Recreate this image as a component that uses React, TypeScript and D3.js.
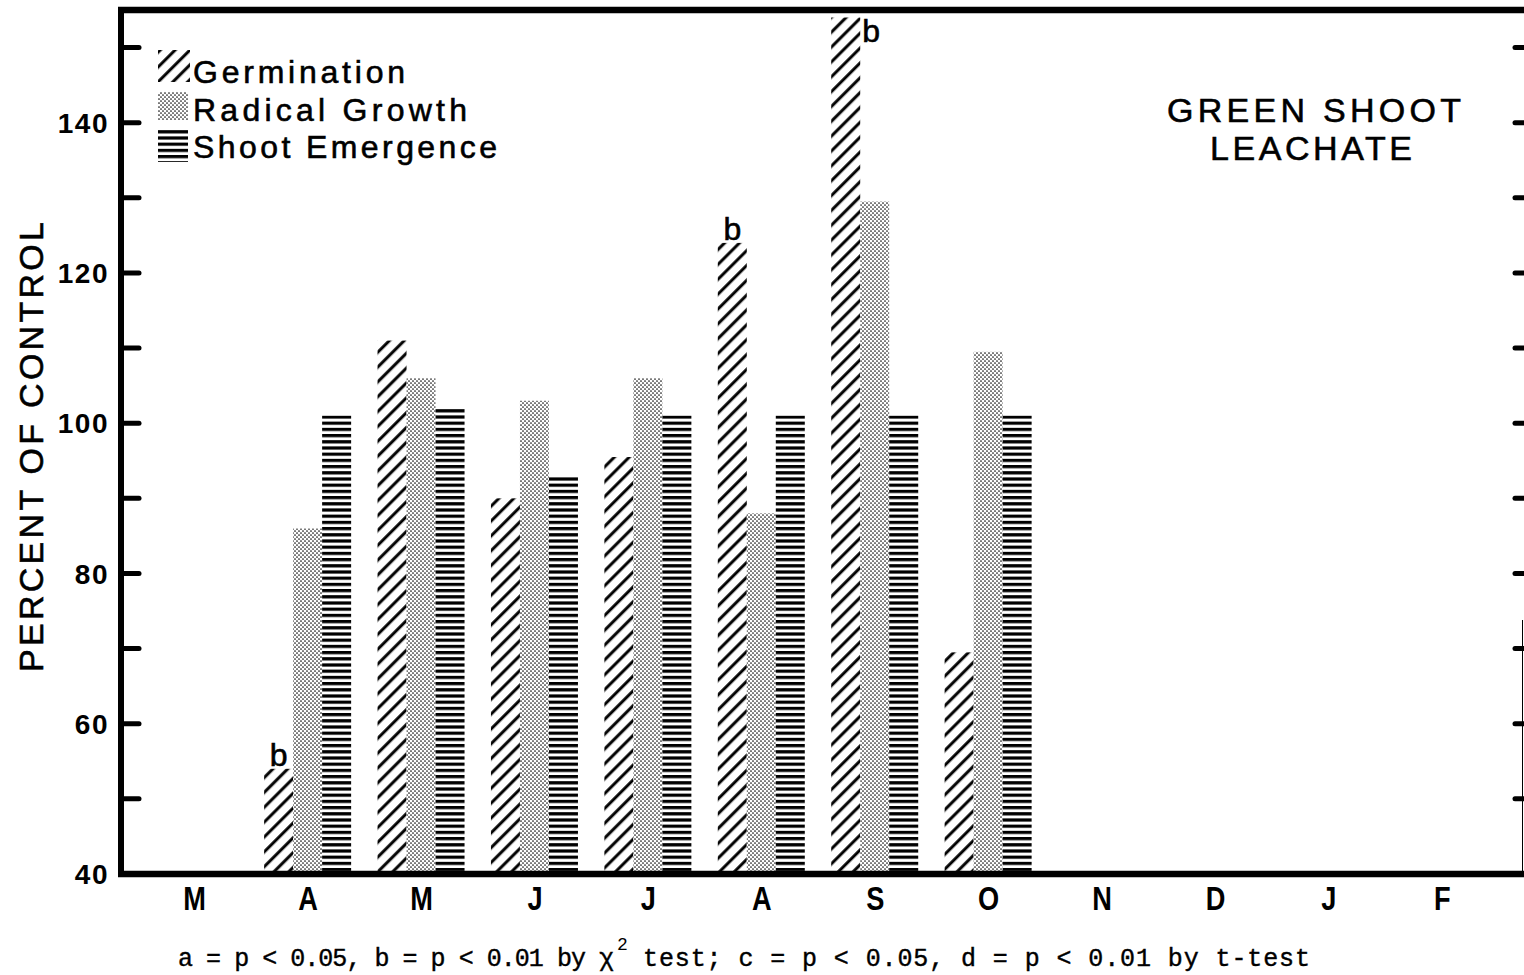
import React from "react";
import * as d3 from "d3";

// Monthly sampling, March through February
const months = ["M", "A", "M", "J", "J", "A", "S", "O", "N", "D", "J", "F"];
const seriesNames = ["Germination", "Radical Growth", "Shoot Emergence"];

// Percent of control for each month (null = not sampled)
const germination = [null, 54, 111, 90, 95.5, 124, 154, 69.5, null, null, null, null];
const radicalGrowth = [null, 86, 106, 103, 106, 88, 129.5, 109.5, null, null, null, null];
const shootEmergence = [null, 101, 102, 93, 101, 101, 101, 101, null, null, null, null];

// Significance marks on germination bars
const germinationMarks = ["", "b", "", "", "", "b", "b", "", "", "", "", ""];

const yTickLabels = [40, 60, 80, 100, 120, 140];
const yTickMarks = [50, 60, 70, 80, 90, 100, 110, 120, 130, 140, 150];

const footnoteLeft = "a = p < 0.05, b = p < 0.01 by χ";
const footnoteRight = "test; c = p < 0.05, d = p < 0.01 by t-test";

const W = 1524;
const H = 975;
const left = 121;
const right = 1524;
const top = 10;
const bottom = 874;

const sans = "'Liberation Sans', Arial, Helvetica, sans-serif";
const mono = "'Liberation Mono', 'DejaVu Sans Mono', monospace";

export default function App() {
  const y = d3.scaleLinear().domain([40, 155]).range([bottom, top]);
  const x = d3
    .scaleBand<number>()
    .domain(d3.range(months.length))
    .range([138, 1499]);
  const inner = d3.scaleBand<number>().domain([0, 1, 2]).range([0, 87]);
  const seriesValues = [germination, radicalGrowth, shootEmergence];
  const fills = ["url(#hatch)", "url(#stipple)", "url(#hlines)"];
  const ink = { fill: "black", stroke: "black", strokeWidth: 0.6 };

  return (
    <svg
      width={W}
      height={H}
      viewBox={`0 0 ${W} ${H}`}
      style={{ display: "block", position: "fixed", left: 0, top: 0 }}
    >
      <defs>
        <pattern id="hatch" patternUnits="userSpaceOnUse" width="10.5" height="10.5" patternTransform="rotate(45)">
          <rect width="10.5" height="10.5" fill="white" />
          <line x1="1.7" y1="0" x2="1.7" y2="10.5" stroke="black" strokeWidth="3" />
        </pattern>
        <pattern id="stipple" patternUnits="userSpaceOnUse" width="4" height="4">
          <rect width="4" height="4" fill="white" />
          <circle cx="1" cy="1" r="0.85" fill="#111" />
          <circle cx="3" cy="3" r="0.85" fill="#111" />
        </pattern>
        <pattern id="hlines" patternUnits="userSpaceOnUse" width="6.2" height="6.2">
          <rect width="6.2" height="6.2" fill="white" />
          <rect x="0" y="0" width="6.2" height="3.2" fill="black" />
        </pattern>
      </defs>
      <rect width={W} height={H} fill="white" />

      {/* bars */}
      {seriesValues.map((vals, si) =>
        vals.map((v, mi) =>
          v == null ? null : (
            <rect
              key={`${si}-${mi}`}
              x={(x(mi) as number) + x.bandwidth() / 2 - 44 + (inner(si) as number)}
              y={y(v)}
              width={inner.bandwidth()}
              height={bottom - y(v)}
              fill={fills[si]}
            />
          )
        )
      )}

      {/* significance marks */}
      {germinationMarks.map((m, mi) => {
        const v = germination[mi];
        if (!m || v == null) return null;
        const bx = (x(mi) as number) + x.bandwidth() / 2 - 44;
        const bw = inner.bandwidth();
        const crowded = y(v) - 30 < top;
        return (
          <text
            key={`m${mi}`}
            x={crowded ? bx + bw + 2 : bx + bw / 2}
            y={crowded ? y(v) + 24 : y(v) - 3}
            textAnchor={crowded ? "start" : "middle"}
            fontFamily={sans}
            fontSize={32}
            {...ink}
          >
            {m}
          </text>
        );
      })}

      {/* frame */}
      <line x1={left - 3} x2={right} y1={top} y2={top} stroke="black" strokeWidth={6.5} />
      <line x1={left} x2={left} y1={top - 3} y2={bottom + 3} stroke="black" strokeWidth={6} />
      <line x1={left - 3} x2={right} y1={bottom} y2={bottom} stroke="black" strokeWidth={6.5} />
      <line x1={1522.5} x2={1522.5} y1={620} y2={bottom} stroke="black" strokeWidth={1} />

      {/* y ticks, both sides */}
      {yTickMarks.map((t) => (
        <g key={`t${t}`}>
          <line x1={left} x2={139} y1={y(t)} y2={y(t)} stroke="black" strokeWidth={5} strokeLinecap="round" />
          <line x1={1515} x2={right + 3} y1={y(t)} y2={y(t)} stroke="black" strokeWidth={5} strokeLinecap="round" />
        </g>
      ))}
      {yTickLabels.map((t) => (
        <text
          key={`l${t}`}
          x={109}
          y={y(t)}
          dy="0.36em"
          textAnchor="end"
          fontFamily={sans}
          fontWeight="bold"
          fontSize={28}
          letterSpacing={1.5}
          fill="black"
        >
          {t}
        </text>
      ))}

      {/* month labels */}
      {months.map((m, i) => {
        const cx = (x(i) as number) + x.bandwidth() / 2;
        return (
          <text
            key={`x${i}`}
            x={cx}
            y={910}
            textAnchor="middle"
            fontFamily={sans}
            fontWeight="bold"
            fontSize={34}
            transform={`translate(${cx} 0) scale(0.8 1) translate(${-cx} 0)`}
            fill="black"
          >
            {m}
          </text>
        );
      })}

      {/* y axis title */}
      <text
        transform="translate(43 447) rotate(-90)"
        textAnchor="middle"
        fontFamily={sans}
        fontSize={34}
        textLength={450}
        lengthAdjust="spacing"
        {...ink}
      >
        PERCENT OF CONTROL
      </text>

      {/* legend */}
      <g>
        <rect x={158} y={50} width={32} height={32} fill="url(#hatch)" />
        <rect x={158} y={92} width={30} height={28} fill="url(#stipple)" />
        <rect x={158} y={130} width={30} height={32} fill="url(#hlines)" />
        {seriesNames.map((s, i) => (
          <text
            key={s}
            x={193}
            y={83 + i * 37.5}
            fontFamily={sans}
            fontSize={32}
            textLength={[212, 274, 304][i]}
            lengthAdjust="spacing"
            {...ink}
          >
            {s}
          </text>
        ))}
      </g>

      {/* panel title */}
      <text x={1314} y={122} textAnchor="middle" fontFamily={sans} fontSize={34} textLength={294} lengthAdjust="spacing" {...ink}>
        GREEN SHOOT
      </text>
      <text x={1311} y={160} textAnchor="middle" fontFamily={sans} fontSize={34} textLength={202} lengthAdjust="spacing" {...ink}>
        LEACHATE
      </text>

      {/* footnote */}
      <text x={178} y={966} fontFamily={mono} fontSize={25} textLength={436} lengthAdjust="spacing" fill="black" stroke="black" strokeWidth={0.4}>
        {footnoteLeft}
      </text>
      <text x={617} y={950} fontFamily={mono} fontSize={18} fill="black">
        2
      </text>
      <text x={643} y={966} fontFamily={mono} fontSize={25} textLength={667} lengthAdjust="spacing" fill="black" stroke="black" strokeWidth={0.4}>
        {footnoteRight}
      </text>
    </svg>
  );
}
